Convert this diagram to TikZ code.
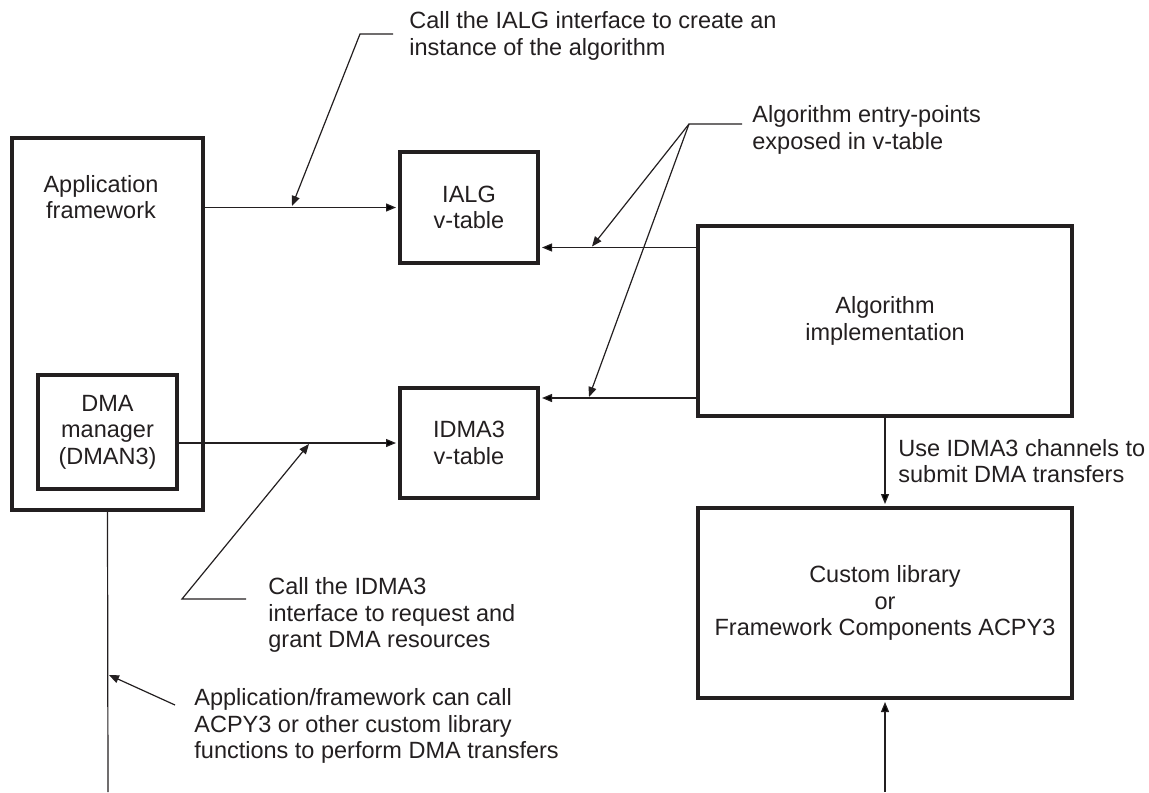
\documentclass[tikz,border=0pt]{standalone}
\usepackage{fontspec}
\setmainfont{Liberation Sans}
\usetikzlibrary{positioning, arrows.meta}
\definecolor{ink}{RGB}{35,31,32}

\begin{document}
\begin{tikzpicture}[x=0.5pt, y=-0.5pt, on grid, >={Triangle[length=5pt, width=4pt]},
    every node/.style={font=\fontsize{11.75}{13.25}\selectfont, text=ink, inner sep=0pt},
    block/.style={draw=ink, line width=2pt, align=center},
    note/.style={anchor=west, align=left},
    wire/.style={draw=ink, line width=0.6pt}]
    \useasboundingbox (0,0) rectangle (1149,792);

    \node[block, minimum width=95.5pt, minimum height=186pt] (app) at (107.5,324) {};
    \node[align=center] (apptxt) at (101,197) {Application\\framework};
    \node[block, minimum width=69.5pt, minimum height=57pt] (dman) at (107.5,432) {DMA\\manager\\(DMAN3)};
    \node[block, minimum width=69pt, minimum height=55.5pt] (ialg) at (469,207.5) {IALG\\v-table};
    \node[block, minimum width=69pt, minimum height=55pt] (idma) [below=117.75pt of ialg] {IDMA3\\v-table};
    \node[block, minimum width=187pt, minimum height=95pt] (algo) at (885,321) {Algorithm\\implementation};
    \node[block, minimum width=187pt, minimum height=95pt] (clib) [below=141pt of algo] {Custom library\\or\\Framework Components ACPY3};

    \node[note] (ialgnote) at (409,36) {Call the IALG interface to create an\\instance of the algorithm};
    \node[note] (entrynote) at (752,130) {Algorithm entry-points\\exposed in v-table};
    \node[note] (usenote) at (898,461) {Use IDMA3 channels to\\submit DMA transfers};
    \node[note] (idmanote) at (268,615) {Call the IDMA3\\interface to request and\\grant DMA resources};
    \node[note] (acpynote) at (194,726) {Application/framework can call\\ACPY3 or other custom library\\functions to perform DMA transfers};

    \coordinate (ialgin) at ([yshift=-20pt]ialg.east);
    \coordinate (idmain) at ([yshift=22.5pt]idma.east);
    \coordinate (append) at (108,792);
    \coordinate (clibin) at (885,792);
    \coordinate (h1) at (393,34);
    \coordinate (k1) at (360,34);
    \coordinate (t1) at (292,206);
    \coordinate (h2) at (742,124);
    \coordinate (k2) at (689,124);
    \coordinate (t2) at (592,246.5);
    \coordinate (t3) at (589,397);
    \coordinate (h4) at (246,599);
    \coordinate (k4) at (182,599);
    \coordinate (t4) at (309,444);
    \coordinate (s5) at (175,705);
    \coordinate (t5) at (109,675);

    \draw[wire, ->, shorten >=1pt]
        (ialg.west -| app.east) edge (ialg.west)
        (idma.west -| dman.east) edge (idma.west)
        (ialgin -| algo.west) edge (ialgin)
        (idmain -| algo.west) edge (idmain)
        (algo.south) edge (clib.north)
        (clibin) edge (clib.south);
    \draw[wire] (app.south) -- (append);

    \draw[wire, ->] (h1) -- (k1) -- (t1);
    \draw[wire, ->] (h2) -- (k2) -- (t2);
    \draw[wire, ->] (k2) -- (t3);
    \draw[wire, ->] (h4) -- (k4) -- (t4);
    \draw[wire, ->] (s5) -- (t5);
\end{tikzpicture}
\end{document}
